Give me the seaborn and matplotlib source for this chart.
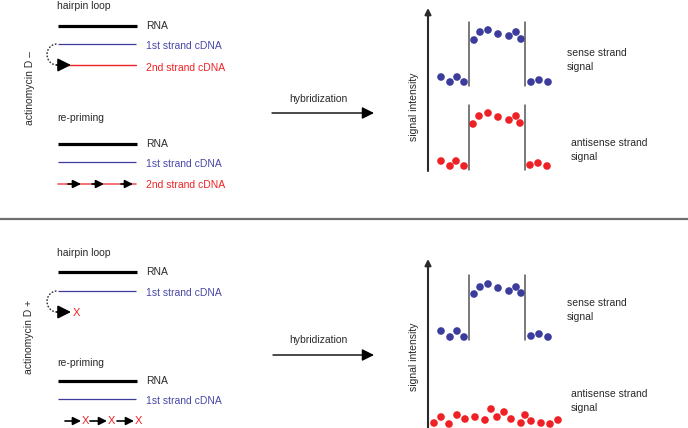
import matplotlib
matplotlib.use("Agg")
import matplotlib.pyplot as plt
from matplotlib.patches import Arc
import seaborn as sns
import pandas as pd

sns.set_style("white")
plt.rcParams['font.family'] = ['Liberation Sans', 'DejaVu Sans']

# ---------- colours ----------
BLUE = "#3c3c9c"
BLUE_TXT = "#4848a8"
RED = "#ee2226"
DARK = "#2a2a2a"

# ---------- dot data (pixel space of the 688x428 canvas) ----------
top_sense_x = [441, 450, 457, 464, 474, 480, 488, 498, 509, 516, 521, 531, 539, 548]
top_sense_y = [77, 82, 77, 82, 40, 32, 30, 34, 36, 32, 39, 82, 80, 82]
top_anti_x = [441, 450, 456, 464, 473, 479, 488, 498, 509, 516, 520, 530, 538, 547]
top_anti_y = [161, 166, 161, 166, 124, 116, 113, 117, 120, 116, 123, 165, 163, 166]
bot_sense_x = [441, 450, 457, 464, 474, 480, 488, 498, 509, 516, 521, 531, 539, 548]
bot_sense_y = [331, 337, 331, 337, 294, 287, 284, 288, 291, 287, 293, 336, 334, 337]
bot_anti_x = [434, 441, 449, 457, 465, 475, 485, 491, 497, 504, 511, 521, 525, 531, 541, 550, 558]
bot_anti_y = [423, 417, 424, 415, 419, 417, 420, 409, 417, 412, 419, 423, 415, 421, 423, 424, 420]

strand_labels = ["sense strand\nsignal", "antisense strand\nsignal"]
treatments = ["actinomycin D \u2013", "actinomycin D +"]

frames = []
for xs, ys, s in [(top_sense_x, top_sense_y, "sense"), (top_anti_x, top_anti_y, "antisense"),
                  (bot_sense_x, bot_sense_y, "sense"), (bot_anti_x, bot_anti_y, "antisense")]:
    frames.append(pd.DataFrame({"x": xs, "y": ys, "strand": s}))
dots = pd.concat(frames, ignore_index=True)

fig = plt.figure(figsize=(6.88, 4.28), dpi=100)
ax = fig.add_axes([0, 0, 1, 1])

FS = 7.5


def txt(x, y, s, color=DARK, **kw):
    ax.text(x, y, s, fontsize=FS, color=color, va="center", ha="left", **kw)


def arrow(x0, y0, x1, y1, lw=1.2, ms=12, color="black"):
    ax.annotate("", xy=(x1, y1), xytext=(x0, y0),
                arrowprops=dict(arrowstyle="-|>", lw=lw, color=color,
                                mutation_scale=ms, shrinkA=0, shrinkB=0))


def strands(y_rna, y_first):
    ax.plot([58, 137], [y_rna, y_rna], color="black", lw=2.3, solid_capstyle="butt")
    txt(146, y_rna, "RNA")
    ax.plot([58, 136], [y_first, y_first], color=BLUE, lw=0.9, solid_capstyle="butt")
    txt(146, y_first + 2, "1st strand cDNA", color=BLUE_TXT)


# ================= TOP PANEL (actinomycin D -) =================
ax.text(30, 88, treatments[0], fontsize=FS, color=DARK, rotation=90, ha="center", va="center")
txt(57, 6, "hairpin loop")
strands(26, 44)
ax.plot([64, 136], [65, 65], color=RED, lw=1.0)
arrow(57, 65, 71, 65, ms=20)
txt(146, 68, "2nd strand cDNA", color=RED)
ax.add_patch(Arc((57, 54.5), 20, 21, theta1=90, theta2=270, ls=(0, (1.2, 1.2)), lw=1.0, color=DARK))

txt(57, 118, "re-priming")
strands(144, 162)
ax.plot([58, 136], [184, 184], color=RED, lw=1.2, alpha=0.75)
for x0, x1 in [(68, 81), (92, 104), (121, 133)]:
    arrow(x0, 184, x1, 184, lw=1.2, ms=12)
txt(146, 185, "2nd strand cDNA", color=RED)

# hybridization arrow
ax.text(318, 99, "hybridization", fontsize=FS, color=DARK, ha="center", va="center")
arrow(272, 113, 374, 113, lw=1.0, ms=18)

# signal axes
arrow(428, 171, 428, 8, lw=1.5, ms=9, color=DARK)
ax.text(414, 107, "signal intensity", fontsize=FS, color=DARK, rotation=90, ha="center", va="center")
for x in [469, 525]:
    ax.plot([x, x], [22, 86], color="#555555", lw=1.1)
    ax.plot([x, x], [105, 170], color="#555555", lw=1.1)
txt(567, 60, strand_labels[0], linespacing=1.4)
txt(571, 150, strand_labels[1], linespacing=1.4)

# separator
ax.plot([0, 688], [219, 219], color="#6e6e6e", lw=1.6)

# ================= BOTTOM PANEL (actinomycin D +) =================
ax.text(29, 337, treatments[1], fontsize=FS, color=DARK, rotation=90, ha="center", va="center")
txt(57, 253, "hairpin loop")
strands(272, 291)
arrow(57, 312, 71, 312, ms=20)
ax.text(73, 312.5, "X", fontsize=FS + 0.5, color=RED, va="center", ha="left")
ax.add_patch(Arc((57, 301.5), 20, 21, theta1=90, theta2=270, ls=(0, (1.2, 1.2)), lw=1.0, color=DARK))

txt(57, 363, "re-priming")
strands(381, 399)
for x0, x1 in [(65, 81), (90, 107), (117, 134)]:
    arrow(x0, 421, x1, 421, lw=1.2, ms=12)
    ax.text(x1 + 0.5, 421.5, "X", fontsize=FS + 0.5, color=RED, va="center", ha="left")

ax.text(318, 340, "hybridization", fontsize=FS, color=DARK, ha="center", va="center")
arrow(273, 355, 374, 355, lw=1.0, ms=18)

arrow(428, 430, 428, 259, lw=1.5, ms=9, color=DARK)
ax.text(414, 357, "signal intensity", fontsize=FS, color=DARK, rotation=90, ha="center", va="center")
for x in [469, 525]:
    ax.plot([x, x], [275, 340], color="#555555", lw=1.1)
txt(567, 310, strand_labels[0], linespacing=1.4)
txt(571, 401, strand_labels[1], linespacing=1.4)

# dots
sns.scatterplot(data=dots, x="x", y="y", hue="strand",
                palette={"sense": BLUE, "antisense": RED},
                s=30, edgecolor="none", legend=False, ax=ax)
ax.set_xlim(0, 688)
ax.set_ylim(428, 0)
ax.axis("off")

fig.savefig("out.png", dpi=100)
